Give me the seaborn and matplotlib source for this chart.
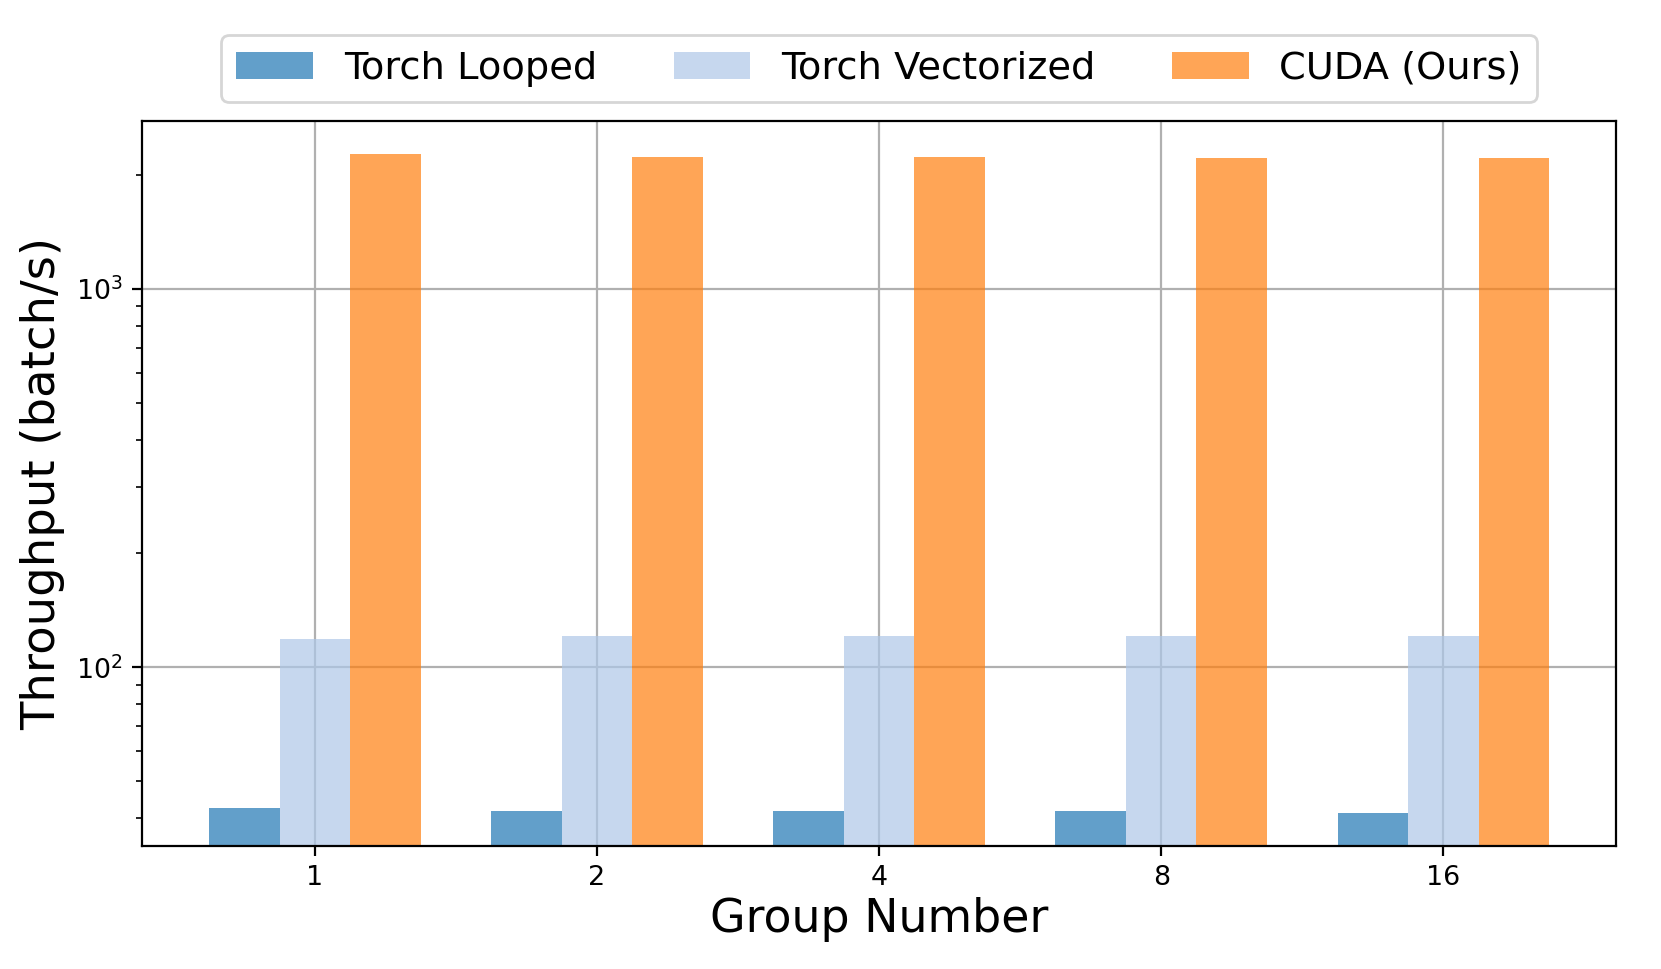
import numpy as np
import pandas as pd
import seaborn as sns
import matplotlib
matplotlib.use('Agg')
import matplotlib.pyplot as plt

# Values (batch/s, log axis).
groups = ['1', '2', '4', '8', '16']
torch_looped = [42.4, 41.7, 41.7, 41.6, 41.2]
torch_vectorized = [118.6, 121.3, 121.3, 121.3, 121.2]
cuda_ours = [2276, 2238, 2230, 2218, 2216]
methods = ['Torch Looped', 'Torch Vectorized', 'CUDA (Ours)']
colors = ['#1f77b4', '#aec7e8', '#ff7f0e']


def main():
    # Long-format frame for seaborn.
    df = pd.DataFrame({
        'group': groups * 3,
        'method': np.repeat(methods, len(groups)),
        'y': torch_looped + torch_vectorized + cuda_ours,
    })

    sns.set_style('ticks')
    plt.rcParams.update({
        'axes.edgecolor': 'black',
        'axes.labelcolor': 'black',
        'text.color': 'black',
        'xtick.color': 'black',
        'ytick.color': 'black',
        'axes.linewidth': 0.8,
        'grid.color': '#b0b0b0',
        'grid.linewidth': 0.8,
        'font.family': ['DejaVu Sans'],
    })

    fig = plt.figure(figsize=(8.305, 4.845), dpi=200)
    ax = fig.add_axes([0.0855, 0.127, 0.8875, 0.748])
    sns.barplot(data=df, x='group', y='y', hue='method', order=groups,
                hue_order=methods, palette=colors, saturation=1, width=0.75,
                alpha=0.7, linewidth=0, ax=ax)
    ax.set_yscale('log')

    # Same limits matplotlib would pick on its own (5% margin in log space).
    lo = np.log10(min(torch_looped))
    hi = np.log10(max(cuda_ours))
    pad = 0.05 * (hi - lo)
    ax.set_ylim(10 ** (lo - pad), 10 ** (hi + pad))
    ax.set_xlim(-0.6125, len(groups) - 1 + 0.6125)

    ax.grid(True, which='major')
    ax.set_axisbelow(True)
    for side in ['top', 'right', 'left', 'bottom']:
        ax.spines[side].set_visible(True)
    ax.tick_params(axis='both', which='major', labelsize=9.7)

    ax.set_xlabel('Group Number', fontsize=16.5, labelpad=2)
    ax.set_ylabel('Throughput (batch/s)', fontsize=16.75)

    # Legend above the axes, one row.
    handles, labels = ax.get_legend_handles_labels()
    for h in handles:
        h.set_alpha(0.7)
    ax.legend(handles=handles, labels=labels, loc='lower center',
              bbox_to_anchor=(0.5, 1.0), ncol=3, fontsize=13.8,
              title=None)

    plt.savefig('out.png', dpi=200)


if __name__ == '__main__':
    main()
